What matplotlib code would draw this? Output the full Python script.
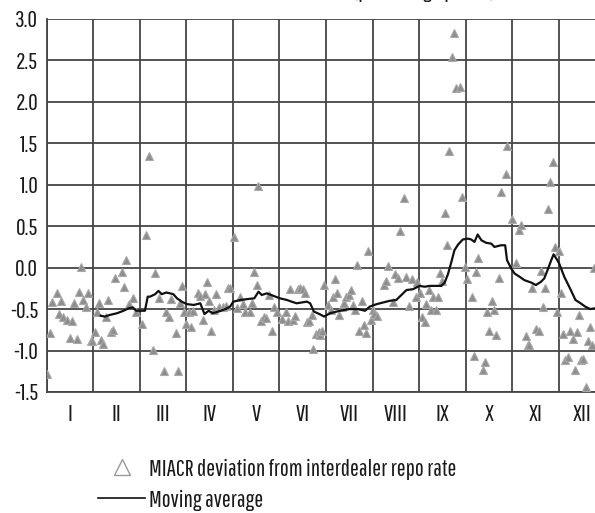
import matplotlib
matplotlib.use("Agg")
import matplotlib.pyplot as plt
from matplotlib.lines import Line2D

plt.rcParams["font.family"] = ["Pathway Gothic One", "Barlow Condensed", "Roboto Condensed", "DejaVu Sans"]

# month positions (0 = start of January, 1 month per unit)
dev_pos = [
    0.01, 0.07, 0.12, 0.22, 0.26, 0.31, 0.34, 0.44, 0.50, 0.55, 0.59, 0.65, 0.69, 0.73, 0.78, 0.84, 0.89, 0.95, 0.98,
    1.04, 1.08, 1.13, 1.17, 1.22, 1.28, 1.32, 1.38, 1.42, 1.46, 1.61, 1.66, 1.71, 1.76, 1.85, 1.91,
    2.05, 2.14, 2.19, 2.28, 2.33, 2.42, 2.52, 2.57, 2.62, 2.67, 2.77, 2.82, 2.87, 2.91, 2.95,
    3.00, 3.05, 3.10, 3.15, 3.25, 3.30, 3.35, 3.40, 3.45, 3.49, 3.54, 3.60, 3.63, 3.70, 3.79, 3.85, 3.89, 3.94,
    4.03, 4.09, 4.16, 4.21, 4.27, 4.36, 4.41, 4.46, 4.51, 4.55, 4.61, 4.66, 4.71, 4.77, 4.85, 4.89, 4.95,
    5.05, 5.15, 5.18, 5.23, 5.30, 5.34, 5.39, 5.45, 5.50, 5.54, 5.60, 5.64, 5.69, 5.72, 5.78, 5.84, 5.87, 5.92, 5.96,
    6.04, 6.10, 6.16, 6.19, 6.24, 6.29, 6.34, 6.39, 6.44, 6.49, 6.53, 6.57, 6.63, 6.67, 6.71, 6.77, 6.81, 6.87, 6.91, 6.96,
    7.00, 7.03, 7.09, 7.24, 7.30, 7.34, 7.44, 7.49, 7.54, 7.59, 7.68, 7.72, 7.78, 7.84, 7.93, 7.96,
    8.01, 8.06, 8.12, 8.15, 8.21, 8.26, 8.31, 8.36, 8.41, 8.46, 8.50, 8.55, 8.60, 8.64, 8.70, 8.74, 8.79, 8.89, 8.93, 8.98,
    9.03, 9.13, 9.17, 9.23, 9.27, 9.37, 9.42, 9.47, 9.51, 9.56, 9.61, 9.66, 9.71, 9.76, 9.86, 9.90, 9.99,
    10.09, 10.14, 10.19, 10.29, 10.33, 10.37, 10.43, 10.51, 10.57, 10.62, 10.67, 10.71, 10.77, 10.81, 10.87, 10.91, 10.96,
    11.00, 11.05, 11.10, 11.14, 11.19, 11.24, 11.30, 11.34, 11.39, 11.44, 11.48, 11.53, 11.58, 11.62, 11.67, 11.71, 11.75,
]
dev_val = [
    -1.28, -0.79, -0.41, -0.31, -0.56, -0.40, -0.59, -0.63, -0.85, -0.64, -0.43, -0.86, -0.29, 0.01, -0.39, -0.47, -0.30, -0.88, -0.89,
    -0.78, -0.54, -0.43, -0.87, -0.92, -0.60, -0.39, -0.78, -0.75, -0.13, -0.05, -0.23, 0.09, -0.44, -0.37, -0.54,
    -0.68, 0.39, 1.35, -0.99, -0.07, -0.37, -1.25, -0.53, -0.59, -0.38, -0.79, -1.25, -0.43, -0.22, -0.54,
    -0.68, -0.53, -0.72, -0.52, -0.31, -0.34, -0.63, -0.32, -0.17, -0.40, -0.77, -0.51, -0.32, -0.47, -0.47, -0.46, -0.24, -0.24,
    0.37, -0.49, -0.36, -0.44, -0.53, -0.54, -0.43, -0.05, -0.21, 0.98, -0.64, -0.59, -0.61, -0.33, -0.77, -0.48, -0.53,
    -0.62, -0.53, -0.64, -0.26, -0.63, -0.58, -0.26, -0.25, -0.26, -0.30, -0.66, -0.64, -0.57, -0.98, -0.80, -0.78, -0.81, -0.77, -0.21,
    -0.45, -0.51, -0.36, -0.14, -0.30, -0.57, -0.47, -0.43, -0.36, -0.33, -0.27, -0.45, -0.51, 0.03, -0.77, -0.40, -0.69, -0.79, 0.20, -0.63,
    -0.51, -0.56, -0.58, -0.21, -0.16, 0.02, -0.42, -0.08, -0.13, 0.44, 0.84, -0.11, -0.46, -0.14, -0.36, -0.17,
    -0.31, -0.59, -0.65, -0.44, -0.27, -0.51, -0.35, -0.51, -0.36, -0.06, -0.16, 0.66, 0.27, 1.41, 2.54, 2.83, 2.17, 2.18, 0.85, 0.01,
    -0.14, -0.36, -1.06, -0.05, 0.12, -1.24, -1.14, -0.53, -0.76, -0.40, -0.51, -0.81, -0.13, 0.91, 1.13, 1.47, 0.59,
    0.06, 0.46, 0.52, -0.82, -0.93, -0.93, -0.25, -0.74, -0.77, -0.04, -0.48, -0.25, 0.71, 1.03, 1.28, 0.25, -0.53,
    0.20, -0.30, -0.80, -1.12, -1.08, -0.76, -0.86, -1.24, -0.78, -0.57, -1.11, -1.10, -1.44, -0.89, -0.71, -0.93, -0.01,
]

ma_pos = [
    1.16, 1.25, 1.36, 1.51, 1.65, 1.76, 1.85, 1.92, 2.04, 2.11, 2.17, 2.22, 2.33, 2.40, 2.47, 2.57, 2.65, 2.72, 2.80, 2.90,
    3.01, 3.16, 3.30, 3.39, 3.48, 3.57, 3.69, 3.84, 3.94, 4.01, 4.16, 4.30, 4.46, 4.55, 4.62, 4.73, 4.87, 5.01, 5.16, 5.26,
    5.37, 5.48, 5.59, 5.66, 5.74, 5.86, 5.96, 6.09, 6.30, 6.51, 6.69, 6.84, 6.94, 7.09, 7.23, 7.37, 7.51, 7.62, 7.73, 7.87,
    8.01, 8.12, 8.23, 8.37, 8.48, 8.55, 8.62, 8.69, 8.76, 8.84, 8.94, 9.05, 9.12, 9.19, 9.26, 9.34, 9.44, 9.55, 9.62, 9.76,
    9.85, 9.89, 9.98, 10.05, 10.16, 10.26, 10.41, 10.51, 10.62, 10.69, 10.76, 10.84, 10.89, 10.96, 11.01, 11.12, 11.26,
    11.36, 11.47, 11.57, 11.68, 11.78,
]
ma_val = [
    -0.58, -0.59, -0.57, -0.55, -0.52, -0.49, -0.48, -0.52, -0.52, -0.52, -0.35, -0.35, -0.32, -0.28, -0.32, -0.30, -0.31, -0.32, -0.37, -0.41,
    -0.44, -0.45, -0.43, -0.56, -0.52, -0.55, -0.53, -0.50, -0.47, -0.41, -0.39, -0.38, -0.37, -0.29, -0.33, -0.31, -0.34, -0.37, -0.39, -0.41,
    -0.43, -0.42, -0.41, -0.43, -0.53, -0.56, -0.59, -0.55, -0.52, -0.50, -0.50, -0.52, -0.47, -0.44, -0.42, -0.40, -0.39, -0.33, -0.27, -0.26,
    -0.22, -0.23, -0.22, -0.22, -0.22, -0.18, -0.08, 0.06, 0.21, 0.28, 0.34, 0.35, 0.34, 0.31, 0.40, 0.33, 0.30, 0.29, 0.25, 0.27,
    0.27, 0.09, -0.01, -0.07, -0.11, -0.15, -0.18, -0.21, -0.17, -0.13, -0.03, 0.09, 0.16, 0.10, 0.05, -0.11, -0.27,
    -0.39, -0.43, -0.47, -0.50, -0.49,
]

months = ["I", "II", "III", "IV", "V", "VI", "VII", "VIII", "IX", "X", "XI", "XII"]
y_ticks = [-1.5, -1.0, -0.5, 0.0, 0.5, 1.0, 1.5, 2.0, 2.5, 3.0]

fig = plt.figure(figsize=(5.95, 5.13), dpi=100)
axis = fig.add_axes([0.0785, 0.2359, 0.9215, 0.7271])

grid_col = "#454545"
for yv in y_ticks:
    axis.axhline(yv, color=grid_col, lw=1.3, zorder=1)
for k in range(13):
    axis.axvline(k, color=grid_col, lw=1.3, zorder=1)

axis.plot(dev_pos, dev_val, ls="none", marker="^", ms=5.5, mfc="#8e8e8e",
          mec="#a8a8a8", mew=0.8, zorder=3)
axis.plot(ma_pos, ma_val, color="#111111", lw=1.6, zorder=4)

axis.set_xlim(0, 11.78)
axis.set_ylim(-1.5, 3.0)
axis.set_yticks(y_ticks)
axis.set_yticklabels([f"{v:.1f}" for v in y_ticks])
axis.set_xticks([k + 0.5 for k in range(12)])
axis.set_xticklabels(months)
axis.tick_params(axis="both", length=0, labelsize=17, colors="#1a1a1a")
axis.tick_params(axis="y", pad=6)
axis.tick_params(axis="x", pad=9)
for side in ["top", "right"]:
    axis.spines[side].set_visible(False)
for side in ["left", "bottom"]:
    axis.spines[side].set_color(grid_col)
    axis.spines[side].set_linewidth(1.3)

# title sits above the visible area; only its lower edge shows
fig.text(0.713, 1.004, "(percentage points)", ha="center", va="baseline",
         fontsize=17, fontweight="bold", color="#1a1a1a")

handles = [
    Line2D([], [], ls="none", marker="^", ms=12, mfc="none", mec="#999999", mew=1.0),
    Line2D([], [], color="#111111", lw=1.2),
]
fig.legend(handles, ["MIACR deviation from interdealer repo rate", "Moving average"],
           loc="upper left", bbox_to_anchor=(0.165, 0.106), frameon=False,
           fontsize=17, handlelength=2.0, handletextpad=0.15, labelspacing=0.42,
           borderaxespad=0, borderpad=0, labelcolor="#1a1a1a")

fig.savefig("out.png", dpi=100)
